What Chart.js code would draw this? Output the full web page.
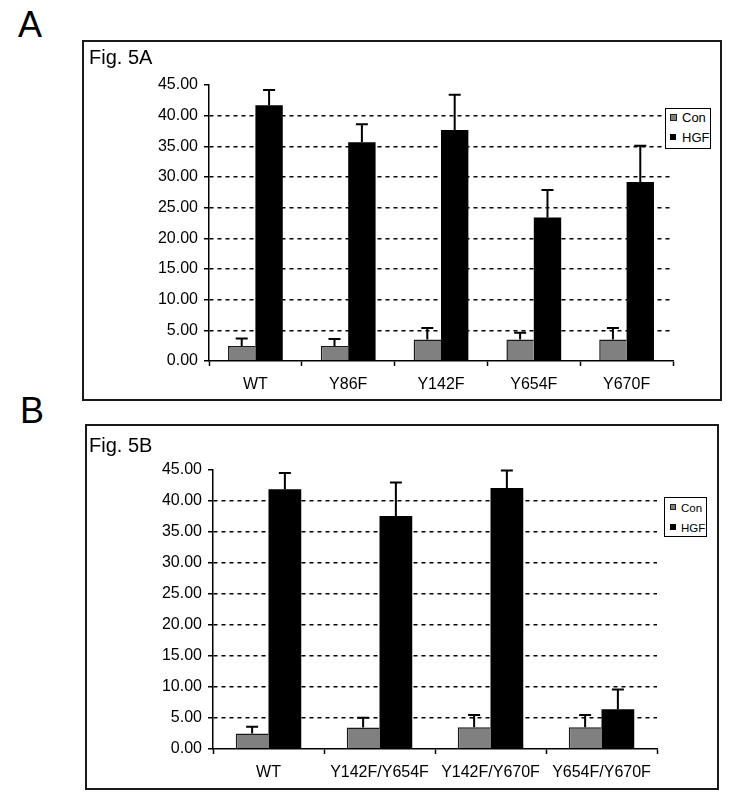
<!DOCTYPE html>
<html>
<head>
<meta charset="utf-8">
<script src="https://cdn.jsdelivr.net/npm/chart.js@4.4.1/dist/chart.umd.min.js"></script>
<style>
  html, body { margin: 0; padding: 0; background: #fff; }
  body { width: 738px; height: 801px; position: relative; overflow: hidden; font-family: "Liberation Sans", Arial, sans-serif; color: #000; }
  .abs { position: absolute; }
  .panelLetter { font-size: 36px; line-height: 36px; }
  .figTitle { font-size: 20px; line-height: 20px; }
  .box { position: absolute; box-sizing: border-box; border: 2px solid #1a1a1a; }
  .box canvas { position: absolute; left: 0; top: 0; }
  .legend { position: absolute; box-sizing: border-box; border: 1.5px solid #000; background: #fff; font-family: "Liberation Sans", Arial, sans-serif; }
  .mk { position: absolute; box-sizing: border-box; }
  .lt { position: absolute; white-space: nowrap; }
</style>
</head>
<body>
<div class="abs panelLetter" style="left:18px; top:7px;">A</div>
<div class="abs panelLetter" style="left:20px; top:393px;">B</div>

<div class="box" style="left:82px; top:40px; width:640px; height:361px;">
  <canvas id="chartA" width="636" height="357"></canvas>
</div>
<div class="abs figTitle" style="left:89px; top:47px;">Fig. 5A</div>
<div class="legend" style="left:665px; top:108px; width:46px; height:41px;">
  <div class="mk" style="left:4px; top:5px; width:7px; height:7px; background:#808080; border:1.5px solid #222;"></div>
  <div class="lt" style="left:16px; top:2px; font-size:13px; line-height:13px;">Con</div>
  <div class="mk" style="left:4px; top:25px; width:6px; height:6px; background:#000;"></div>
  <div class="lt" style="left:16px; top:22px; font-size:13px; line-height:13px;">HGF</div>
</div>

<div class="box" style="left:85px; top:424px; width:634px; height:366px;">
  <canvas id="chartB" width="630" height="362"></canvas>
</div>
<div class="abs figTitle" style="left:89px; top:435px;">Fig. 5B</div>
<div class="legend" style="left:664px; top:497px; width:43px; height:40px;">
  <div class="mk" style="left:5px; top:6px; width:6px; height:6px; background:#808080; border:1.5px solid #222;"></div>
  <div class="lt" style="left:16px; top:4px; font-size:11.5px; line-height:12px;">Con</div>
  <div class="mk" style="left:5px; top:26px; width:6px; height:6px; background:#000;"></div>
  <div class="lt" style="left:16px; top:24px; font-size:11.5px; line-height:12px;">HGF</div>
</div>

<script>
// ---- Data ----
const categoriesA = ['WT', 'Y86F', 'Y142F', 'Y654F', 'Y670F'];
const conA    = [2.45, 2.45, 3.5, 3.5, 3.5];
const conErrA = [1.2, 1.15, 1.9, 1.1, 1.9];
const hgfA    = [41.7, 35.65, 37.65, 23.4, 29.2];
const hgfErrA = [2.5, 2.95, 5.75, 4.5, 5.9];

const categoriesB = ['WT', 'Y142F/Y654F', 'Y142F/Y670F', 'Y654F/Y670F'];
const conB    = [2.5, 3.45, 3.5, 3.5];
const conErrB = [1.1, 1.6, 2.0, 2.0];
const hgfB    = [41.9, 37.6, 42.1, 6.4];
const hgfErrB = [2.6, 5.4, 2.8, 3.2];

const seriesNames = ['Con', 'HGF'];
const yMin = 0, yMax = 45, yStep = 5;

// ---- Error bar plugin (upper whisker only) ----
const errorBars = {
  id: 'errorBars',
  afterDatasetsDraw(chart) {
    const ctx = chart.ctx;
    const ys = chart.scales.y;
    chart.data.datasets.forEach((ds, i) => {
      const meta = chart.getDatasetMeta(i);
      if (!ds.errors) return;
      meta.data.forEach((el, j) => {
        const v = ds.data[j], e = ds.errors[j];
        const yTop = ys.getPixelForValue(v + e);
        const yBar = ys.getPixelForValue(v);
        const x = el.x;
        ctx.save();
        ctx.strokeStyle = '#000';
        ctx.lineWidth = 2;
        ctx.beginPath();
        ctx.moveTo(x, yBar);
        ctx.lineTo(x, yTop);
        ctx.moveTo(x - 6, yTop);
        ctx.lineTo(x + 6, yTop);
        ctx.stroke();
        ctx.restore();
      });
    });
  }
};

function makeChart(id, labels, con, conErr, hgf, hgfErr, area) {
  const canvas = document.getElementById(id);
  const W = canvas.width, H = canvas.height;
  return new Chart(canvas, {
    type: 'bar',
    data: {
      labels: labels,
      datasets: [
        {
          label: seriesNames[0], data: con, errors: conErr,
          backgroundColor: '#808080', borderColor: '#1a1a1a',
          borderWidth: { top: 1.5, left: 1.5, right: 0, bottom: 0 },
          borderSkipped: false,
          categoryPercentage: 0.59, barPercentage: 1.0
        },
        {
          label: seriesNames[1], data: hgf, errors: hgfErr,
          backgroundColor: '#000000', borderWidth: 0,
          categoryPercentage: 0.59, barPercentage: 1.0
        }
      ]
    },
    options: {
      responsive: false,
      animation: false,
      events: [],
      layout: { padding: { left: 0, top: area.top, right: W - area.right, bottom: 0 } },
      plugins: { legend: { display: false }, tooltip: { enabled: false }, title: { display: false } },
      scales: {
        x: {
          afterFit: (s) => { s.height = H - area.bottom; },
          grid: { display: true, offset: true, drawOnChartArea: false, drawTicks: true,
                  tickLength: 5, tickColor: '#000', tickWidth: 1.5, color: '#000' },
          border: { display: true, color: '#000', width: 1.5, z: 1 },
          ticks: { color: '#000', padding: 9, maxRotation: 0, autoSkip: false,
                   font: { family: '"Liberation Sans", Arial, sans-serif', size: 16 } }
        },
        y: {
          min: yMin, max: yMax,
          afterFit: (s) => { s.width = area.left; },
          grid: {
            drawTicks: true, tickLength: 5, tickColor: '#000', tickWidth: 1.5, tickBorderDash: [],
            lineWidth: 1.5,
            color: (c) => (c.tick && (c.tick.value === yMin || c.tick.value === yMax)) ? 'rgba(0,0,0,0)' : '#000'
          },
          border: { display: true, color: '#000', width: 1.5, dash: [4, 4], z: 1 },
          ticks: { stepSize: yStep, color: '#000', padding: 6,
                   font: { family: '"Liberation Sans", Arial, sans-serif', size: 16 },
                   callback: (v) => Number(v).toFixed(2) }
        }
      }
    },
    plugins: [errorBars]
  });
}

makeChart('chartA', categoriesA, conA, conErrA, hgfA, hgfErrA, { left: 125, right: 589, top: 43, bottom: 319 });
makeChart('chartB', categoriesB, conB, conErrB, hgfB, hgfErrB, { left: 126, right: 570, top: 44, bottom: 323 });
</script>
</body>
</html>
